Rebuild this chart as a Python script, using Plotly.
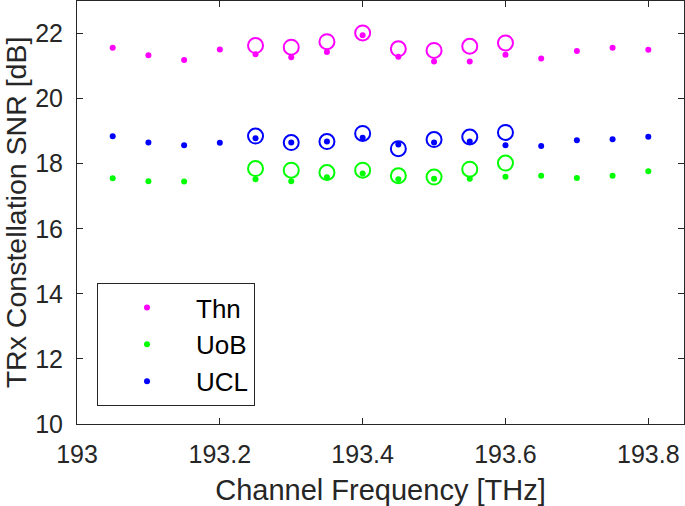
import plotly.graph_objects as go

freq = [193.05, 193.10, 193.15, 193.20, 193.25, 193.30, 193.35, 193.40,
        193.45, 193.50, 193.55, 193.60, 193.65, 193.70, 193.75, 193.80]
thn_dots = [21.56, 21.33, 21.19, 21.51, 21.36, 21.27, 21.43, 21.95,
            21.29, 21.14, 21.14, 21.35, 21.23, 21.46, 21.56, 21.50]
ucl_dots = [18.84, 18.65, 18.57, 18.64, 18.78, 18.65, 18.68, 18.80,
            18.59, 18.65, 18.68, 18.57, 18.54, 18.72, 18.75, 18.83]
uob_freq = [193.05, 193.10, 193.15, 193.25, 193.30, 193.35, 193.40,
            193.45, 193.50, 193.55, 193.60, 193.65, 193.70, 193.75, 193.80]
uob_dots = [17.55, 17.46, 17.45, 17.52, 17.46, 17.58, 17.70,
            17.52, 17.54, 17.54, 17.60, 17.63, 17.56, 17.63, 17.77]

circ_freq = [193.25, 193.30, 193.35, 193.40, 193.45, 193.50, 193.55, 193.60]
thn_circ = [21.63, 21.58, 21.75, 22.02, 21.53, 21.48, 21.61, 21.71]
uob_circ = [17.85, 17.80, 17.73, 17.80, 17.63, 17.59, 17.83, 18.02]
ucl_circ = [18.85, 18.65, 18.68, 18.93, 18.46, 18.74, 18.82, 18.96]

x_ticks = [193, 193.2, 193.4, 193.6, 193.8]
y_ticks = [10, 12, 14, 16, 18, 20, 22]

MAG, GRN, BLU = "#FF00FF", "#00FF00", "#0000FF"
AX = "#262626"
FONT = "Liberation Sans, Arial, Helvetica, sans-serif"

fig = go.Figure()
for xs, ys, c in [(circ_freq, thn_circ, MAG), (circ_freq, uob_circ, GRN), (circ_freq, ucl_circ, BLU)]:
    fig.add_trace(go.Scatter(x=xs, y=ys, mode="markers", showlegend=False,
                             marker=dict(symbol="circle-open", size=15, color=c,
                                         line=dict(width=2, color=c))))
for name, xs, ys, c in [("Thn", freq, thn_dots, MAG), ("UoB", uob_freq, uob_dots, GRN),
                        ("UCL", freq, ucl_dots, BLU)]:
    fig.add_trace(go.Scatter(x=xs, y=ys, mode="markers", name=name,
                             marker=dict(symbol="circle", size=6, color=c)))

axis_common = dict(showline=True, linecolor=AX, linewidth=1, mirror="ticks",
                   ticks="inside", ticklen=6, tickcolor=AX, tickwidth=1,
                   showgrid=False, zeroline=False,
                   tickfont=dict(family=FONT, size=25, color=AX))
fig.update_xaxes(range=[193, 193.85], tickvals=x_ticks,
                 ticktext=[("%g" % v) for v in x_ticks], ticklabelstandoff=8,
                 title=dict(text="Channel Frequency [THz]", font=dict(family=FONT, size=29, color=AX),
                            standoff=12), **axis_common)
fig.update_yaxes(range=[10, 23], tickvals=y_ticks, ticklabelstandoff=8,
                 title=dict(text="TRx Constellation SNR [dB]", font=dict(family=FONT, size=28.5, color=AX),
                            standoff=9), **axis_common)

fig.update_layout(
    width=685, height=506,
    margin=dict(l=77, r=1, t=1, b=82),
    plot_bgcolor="white", paper_bgcolor="white",
    showlegend=True,
    legend=dict(x=0.033, y=0.333, xanchor="left", yanchor="top",
                bordercolor=AX, borderwidth=1, bgcolor="white",
                font=dict(family=FONT, size=26, color="black"),
                itemwidth=88),
)

fig.write_html("out.html", config={"displayModeBar": False},
               post_script="document.body.style.margin='0';document.body.style.overflow='hidden';")
